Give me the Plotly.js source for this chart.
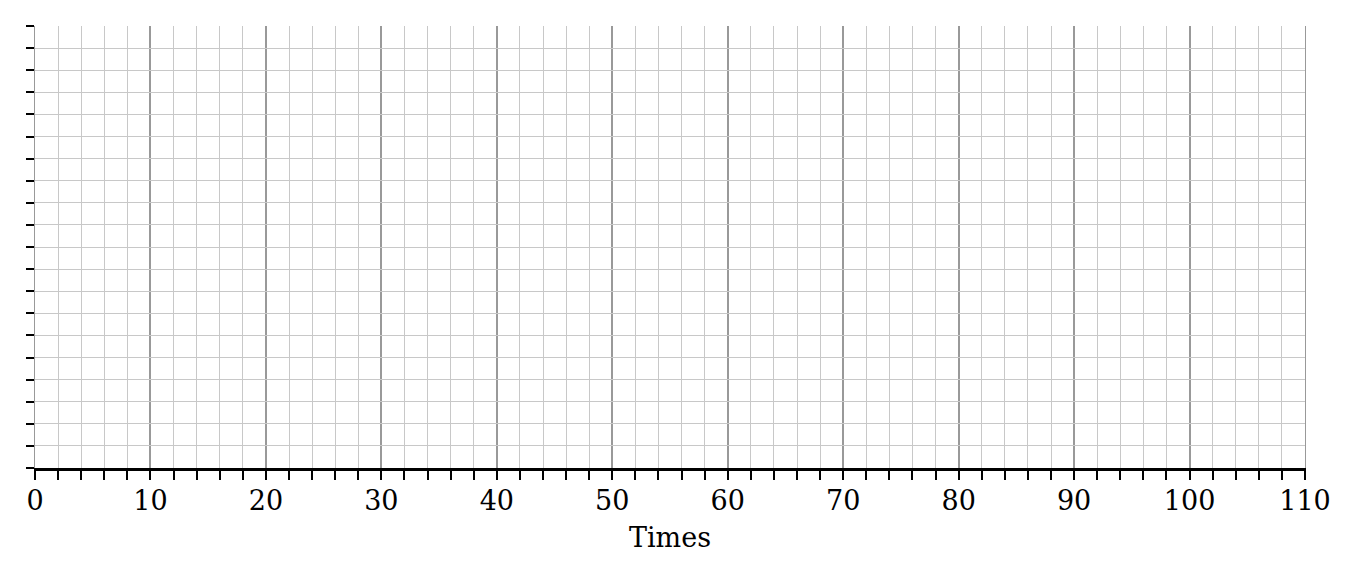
<!DOCTYPE html>
<html>
<head>
<meta charset="utf-8">
<script src="https://cdn.plot.ly/plotly-3.0.1.min.js"></script>
<style>
    html, body { margin: 0; padding: 0; background: #fff; }
    #chart { width: 1360px; height: 578px; }
</style>
</head>
<body>
<div id="chart"></div>
<script>
// the chart has no data plotted, only the empty time grid
const times = [];
const values = [];

const xRange = [0, 110];
const yRange = [0, 20];
const xMajorStep = 10;
const xMinorStep = 2;
const yStep = 1;

const trace = {
    x: times,
    y: values,
    type: "scatter",
    mode: "lines",
    line: { color: "#1f77b4", width: 2 },
    showlegend: false,
    hoverinfo: "skip"
};

const layout = {
    width: 1360,
    height: 578,
    paper_bgcolor: "#ffffff",
    plot_bgcolor: "#ffffff",
    margin: { t: 26, r: 55, b: 110, l: 35 },
    font: { family: "DejaVu Serif, serif", color: "#000", size: 24 },
    showlegend: false,

    xaxis: {
        range: xRange,
        dtick: xMajorStep,
        tick0: 0,
        showgrid: true,
        gridcolor: "#999999",
        gridwidth: 2,
        zeroline: false,
        showline: true,
        linecolor: "#000",
        linewidth: 3,
        ticks: "outside",
        ticklen: 9,
        tickwidth: 2,
        tickcolor: "#000",
        ticklabelstandoff: -2,
        tickfont: { family: "DejaVu Serif, serif", size: 27, color: "#000" },
        minor: {
            dtick: xMinorStep,
            showgrid: true,
            gridcolor: "#c8c8c8",
            gridwidth: 1,
            ticks: "outside",
            ticklen: 9,
            tickwidth: 2,
            tickcolor: "#000"
        },
        title: {
            text: "Times",
            font: { family: "DejaVu Serif, serif", size: 27, color: "#000" },
            standoff: 13
        },
        fixedrange: true
    },

    yaxis: {
        range: yRange,
        dtick: yStep,
        tick0: 0,
        showticklabels: false,
        showgrid: true,
        gridcolor: "#c8c8c8",
        gridwidth: 1,
        zeroline: false,
        showline: true,
        linecolor: "#999999",
        linewidth: 1,
        mirror: true,
        ticks: "outside",
        ticklen: 8,
        tickwidth: 2,
        tickcolor: "#000",
        fixedrange: true
    }
};

const config = {
    staticPlot: true,
    displayModeBar: false
};

Plotly.newPlot("chart", [trace], layout, config);
</script>
</body>
</html>
